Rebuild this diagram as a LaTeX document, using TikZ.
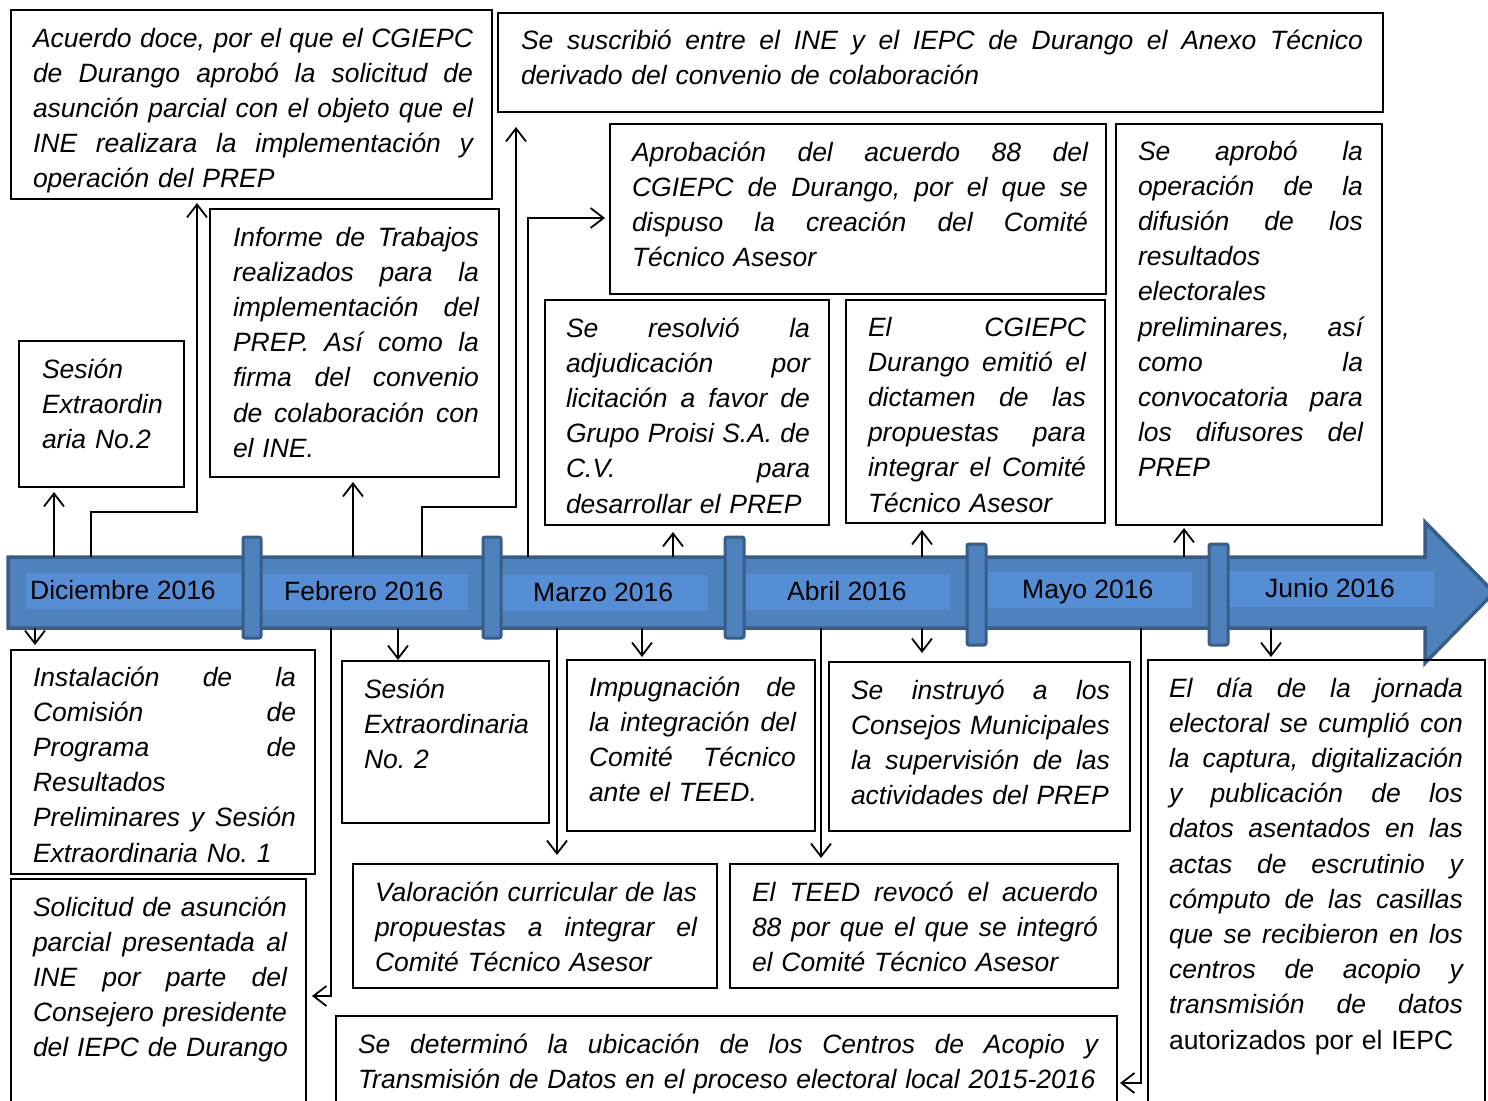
\documentclass[tikz,border=0pt]{standalone}
\usepackage{fontspec}
\setmainfont{Liberation Sans}
\usetikzlibrary{arrows.meta,calc}
\definecolor{barfill}{HTML}{4F81BD}
\definecolor{barline}{HTML}{385D8A}
\definecolor{barlight}{HTML}{558ED5}
\frenchspacing
\newdimen\jlw
\newcommand\W[1]{\global\jlw=#1\relax}
\newcommand\jl[1]{\leavevmode\hbox to \jlw{\spaceskip=0.278em plus 1fil minus 0.05em\relax #1}}
\newcommand\bx[5]{\node[box, minimum width={(#4-#2)*1pt}, minimum height={(#5-#3)*1pt}] (#1) at (#2,#3) {};}
\tikzset{
  box/.style={draw=black, line width=1.8pt, inner sep=0pt, outer sep=0pt, anchor=north west},
  txt/.style={anchor=base west, inner sep=0pt, outer sep=0pt, align=left, text width=#1, font=\fontsize{26.5}{35.2}\selectfont\itshape},
  month/.style={anchor=base west, inner sep=0pt, font=\fontsize{26.5}{30}\selectfont},
  conn/.style={line width=1.8pt, -{Straight Barb[length=13pt,width=20pt,line width=1.8pt]}},
  sep/.style={fill=barfill, draw=barline, line width=3pt, rounded corners=2pt},
  lab/.style={fill=barlight, draw=none},
}
\begin{document}
\begin{tikzpicture}[x=1pt,y=-1pt]
\useasboundingbox (0,0) rectangle (1488,1100);
\fill[white] (0,0) rectangle (1488,1100);
% timeline bar with arrow head
\draw[fill=barfill, draw=barline, line width=3.5pt, line join=miter]
  (8,557) -- (1425,557) -- (1425,522) -- (1494,592.5) -- (1425,663) -- (1425,628) -- (8,628) -- cycle;
% label highlights
\fill[lab] (26,573) rectangle (249,609);
\fill[lab] (263,574) rectangle (468,610);
\fill[lab] (502,575) rectangle (708,611);
\fill[lab] (745,574) rectangle (950,610);
\fill[lab] (985,572) rectangle (1192,608);
\fill[lab] (1229,571) rectangle (1434,607);
% separators
\draw[sep] (243,537) rectangle (261,638);
\draw[sep] (483,537) rectangle (501,638);
\draw[sep] (725,537) rectangle (744,638);
\draw[sep] (967,544) rectangle (986,645);
\draw[sep] (1209,544) rectangle (1228,645);
% month labels
\node[month] (m1) at (30,599) {Diciembre 2016};
\node[month] (m2) at (284,600) {Febrero 2016};
\node[month] (m3) at (533,601) {Marzo 2016};
\node[month] (m4) at (787,600) {Abril 2016};
\node[month] (m5) at (1022,598) {Mayo 2016};
\node[month] (m6) at (1265,597) {Junio 2016};
% boxes
\bx{b1}{11}{10}{492}{199}
\bx{b2}{498}{13}{1383}{112}
\bx{b3}{610}{124}{1106}{294}
\bx{b4}{1116}{124}{1382}{525}
\bx{b5}{210}{209}{499}{477}
\bx{b6}{19}{341}{184}{487}
\bx{b7}{545}{300}{829}{525}
\bx{b8}{846}{300}{1105}{523}
\bx{b9}{11}{650}{315}{874}
\bx{b10}{11}{879}{306}{1112}
\bx{b11}{342}{661}{549}{823}
\bx{b12}{567}{660}{815}{831}
\bx{b13}{353}{864}{717}{988}
\bx{b14}{829}{662}{1130}{831}
\bx{b15}{730}{864}{1118}{988}
\bx{b16}{336}{1016}{1117}{1112}
\bx{b17}{1148}{660}{1485}{1112}
% texts
\node[txt=440pt] (t1) at (33,47) {\W{440pt}\jl{Acuerdo doce, por el que el CGIEPC}\\\jl{de Durango aprobó la solicitud de}\\\jl{asunción parcial con el objeto que el}\\\jl{INE realizara la implementación y}\\\mbox{operación del PREP}};
\node[txt=842pt] (t2) at (521,49) {\W{842pt}\jl{Se suscribió entre el INE y el IEPC de Durango el Anexo Técnico}\\\mbox{derivado del convenio de colaboración}};
\node[txt=456pt] (t3) at (632,161) {\W{456pt}\jl{Aprobación del acuerdo 88 del}\\\jl{CGIEPC de Durango, por el que se}\\\jl{dispuso la creación del Comité}\\\mbox{Técnico Asesor}};
\node[txt=225pt] (t4) at (1138,160) {\W{225pt}\jl{Se aprobó la}\\\jl{operación de la}\\\jl{difusión de los}\\\mbox{resultados}\\\mbox{electorales}\\\jl{preliminares, así}\\\jl{como la}\\\jl{convocatoria para}\\\jl{los difusores del}\\\mbox{PREP}};
\node[txt=246pt] (t5) at (233,246) {\W{246pt}\jl{Informe de Trabajos}\\\jl{realizados para la}\\\jl{implementación del}\\\jl{PREP. Así como la}\\\jl{firma del convenio}\\\jl{de colaboración con}\\\mbox{el INE.}};
\node[txt=140pt] (t6) at (42,378) {\mbox{Sesión}\\\mbox{Extraordin}\\\mbox{aria No.2}};
\node[txt=244pt] (t7) at (566,337) {\W{244pt}\jl{Se resolvió la}\\\jl{adjudicación por}\\\jl{licitación a favor de}\\\jl{Grupo Proisi S.A. de}\\\jl{C.V. para}\\\mbox{desarrollar el PREP}};
\node[txt=218pt] (t8) at (868,336) {\W{218pt}\jl{El CGIEPC}\\\jl{Durango emitió el}\\\jl{dictamen de las}\\\jl{propuestas para}\\\jl{integrar el Comité}\\\mbox{Técnico Asesor}};
\node[txt=263pt] (t9) at (33,686) {\W{263pt}\jl{Instalación de la}\\\jl{Comisión de}\\\jl{Programa de}\\\mbox{Resultados}\\\jl{Preliminares y Sesión}\\\mbox{Extraordinaria No. 1}};
\node[txt=254pt] (t10) at (33,916) {\W{254pt}\jl{Solicitud de asunción}\\\jl{parcial presentada al}\\\jl{INE por parte del}\\\jl{Consejero presidente}\\\mbox{del IEPC de Durango}};
\node[txt=180pt] (t11) at (364,698) {\mbox{Sesión}\\\mbox{Extraordinaria}\\\mbox{No. 2}};
\node[txt=207pt] (t12) at (589,696) {\W{207pt}\jl{Impugnación de}\\\jl{la integración del}\\\jl{Comité Técnico}\\\mbox{ante el TEED.}};
\node[txt=322pt] (t13) at (375,901) {\W{322pt}\jl{Valoración curricular de las}\\\jl{propuestas a integrar el}\\\mbox{Comité Técnico Asesor}};
\node[txt=259pt] (t14) at (851,699) {\W{259pt}\jl{Se instruyó a los}\\\jl{Consejos Municipales}\\\jl{la supervisión de las}\\\mbox{actividades del PREP}};
\node[txt=346pt] (t15) at (752,901) {\W{346pt}\jl{El TEED revocó el acuerdo}\\\jl{88 por que el que se integró}\\\mbox{el Comité Técnico Asesor}};
\node[txt=740pt] (t16) at (358,1053) {\W{740pt}\jl{Se determinó la ubicación de los Centros de Acopio y}\\\mbox{Transmisión de Datos en el proceso electoral local 2015-2016}};
\node[txt=294pt] (t17) at (1169,697) {\W{294pt}\jl{El día de la jornada}\\\jl{electoral se cumplió con}\\\jl{la captura, digitalización}\\\jl{y publicación de los}\\\jl{datos asentados en las}\\\jl{actas de escrutinio y}\\\jl{cómputo de las casillas}\\\jl{que se recibieron en los}\\\jl{centros de acopio y}\\\jl{transmisión de datos}\\\mbox{\upshape autorizados por el IEPC}};
% connector anchor points on the bar
\coordinate (u1) at (54,557);
\coordinate (u2) at (91,557);
\coordinate (u3) at (353,557);
\coordinate (u4) at (422,557);
\coordinate (u5) at (528,557);
\coordinate (u6) at (673,557);
\coordinate (u7) at (922,557);
\coordinate (u8) at (1184,557);
\coordinate (d1) at (35,628);
\coordinate (d2) at (331,628);
\coordinate (d3) at (398,628);
\coordinate (d4) at (557,628);
\coordinate (d5) at (642,628);
\coordinate (d6) at (821,628);
\coordinate (d7) at (922,628);
\coordinate (d8) at (1141,628);
\coordinate (d9) at (1271,628);
\coordinate (c2) at (197,512);
\coordinate (c4) at (516,507);
\coordinate (c5) at (528,218);
\coordinate (c9) at (331,996);
\coordinate (c16) at (1141,1083);
% connectors up
\draw[conn, shorten >=5pt] (u1) -- (u1 |- b6.south);
\draw[conn, shorten >=4pt] (u2) |- (c2) -- (c2 |- b1.south);
\draw[conn, shorten >=5pt] (u3) -- (u3 |- b5.south);
\draw[conn, shorten >=15pt] (u4) |- (c4) -- (c4 |- b2.south);
\draw[conn, shorten >=5pt] (u5) -- (c5) -- (c5 -| b3.west);
\draw[conn, shorten >=7pt] (u6) -- (u6 |- b7.south);
\draw[conn, shorten >=7pt] (u7) -- (u7 |- b8.south);
\draw[conn, shorten >=3pt] (u8) -- (u8 |- b4.south);
% connectors down
\draw[conn, shorten >=5pt] (d1) -- (d1 |- b9.north);
\draw[conn, shorten >=6pt] (d2) -- (c9) -- (c9 -| b10.east);
\draw[conn, shorten >=1pt] (d3) -- (d3 |- b11.north);
\draw[conn, shorten >=9pt] (d4) -- (d4 |- b13.north);
\draw[conn, shorten >=3pt] (d5) -- (d5 |- b12.north);
\draw[conn, shorten >=6pt] (d6) -- (d6 |- b15.north);
\draw[conn, shorten >=9pt] (d7) -- (d7 |- b14.north);
\draw[conn, shorten >=3pt] (d8) -- (c16) -- (c16 -| b16.east);
\draw[conn, shorten >=3pt] (d9) -- (d9 |- b17.north);
\end{tikzpicture}
\end{document}
